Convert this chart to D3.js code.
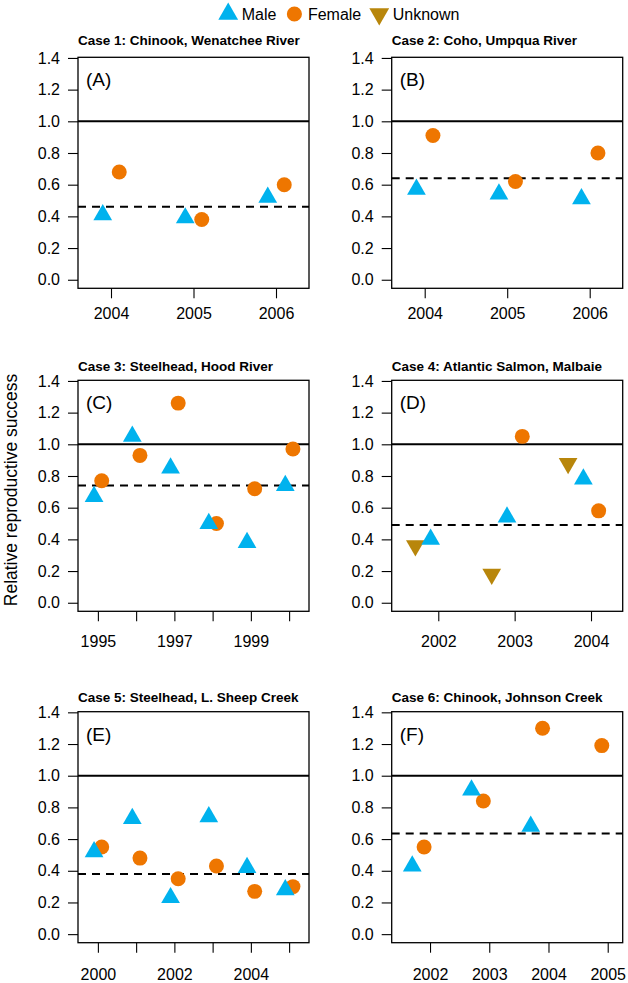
<!DOCTYPE html>
<html>
<head>
<meta charset="utf-8">
<script src="https://cdn.jsdelivr.net/npm/d3@7"></script>
<style>
body { margin: 0; background: #fff; }
svg { display: block; }
</style>
</head>
<body>
<div id="chart-area"></div>
<script>
// values (relative reproductive success)
var years1 = [2004, 2005, 2006];
var male1 = [0.41, 0.39, 0.52];
var female1 = [0.68, 0.38, 0.60];
var mean1 = 0.46;

var years2 = [2004, 2005, 2006];
var male2 = [0.57, 0.54, 0.51];
var female2 = [0.91, 0.62, 0.80];
var mean2 = 0.64;

var years3 = [1995, 1996, 1997, 1998, 1999, 2000];
var male3 = [0.67, 1.05, 0.85, 0.50, 0.38, 0.74];
var female3 = [0.77, 0.93, 1.26, 0.50, 0.72, 0.97];
var mean3 = 0.74;

var years4 = [2002, 2003, 2004];
var male4 = [0.40, 0.54, 0.78];
var female4 = [null, 1.05, 0.58];
var unknown4 = [0.36, 0.18, 0.88];
var mean4 = 0.49;

var years5 = [2000, 2001, 2002, 2003, 2004, 2005];
var male5 = [0.52, 0.73, 0.23, 0.74, 0.42, 0.28];
var female5 = [0.55, 0.48, 0.35, 0.43, 0.27, 0.30];
var mean5 = 0.38;

var years6 = [2002, 2003, 2004, 2005];
var male6 = [0.43, 0.91, 0.68, null];
var female6 = [0.55, 0.84, 1.30, 1.19];
var mean6 = 0.635;

var titles = ["Case 1: Chinook, Wenatchee River", "Case 2: Coho, Umpqua River",
    "Case 3: Steelhead, Hood River", "Case 4: Atlantic Salmon, Malbaie",
    "Case 5: Steelhead, L. Sheep Creek", "Case 6: Chinook, Johnson Creek"];
var letters = ["(A)", "(B)", "(C)", "(D)", "(E)", "(F)"];
var yTicks = [0, 0.2, 0.4, 0.6, 0.8, 1.0, 1.2, 1.4];
var xLabels = [[2004, 2005, 2006], [2004, 2005, 2006], [1995, 1997, 1999],
    [2002, 2003, 2004], [2000, 2002, 2004], [2002, 2003, 2004, 2005]];
var xlims = [[2003.6, 2006.4], [2003.6, 2006.4], [1994.48, 2000.52],
    [2001.39, 2004.415], [1999.48, 2005.52], [2001.353, 2005.253]];
var legendNames = ["Male", "Female", "Unknown"];

var panels = [
    {years: years1, male: male1, female: female1, mean: mean1, off: {male: -0.1, female: 0.1}},
    {years: years2, male: male2, female: female2, mean: mean2, off: {male: -0.1, female: 0.1}},
    {years: years3, male: male3, female: female3, mean: mean3, off: {male: -0.1, female: 0.1}},
    {years: years4, male: male4, female: female4, unknown: unknown4, mean: mean4, off: {unknown: -0.3, male: -0.1, female: 0.1}},
    {years: years5, male: male5, female: female5, mean: mean5, off: {male: -0.1, female: 0.1}},
    {years: years6, male: male6, female: female6, mean: mean6, off: {male: -0.3, female: -0.1}}
];

var width = 628;
var height = 983;
var box = 231;
var colLeft = [78, 391.7];
var rowTop = [57.3, 380.3, 711.7];
var titleRise = [12.6, 9.3, 10];
var xPad = [9.6, 14.6, 15.6];
var font = "'Liberation Sans', Arial, Helvetica, sans-serif";

var colors = {male: "#00B2EE", female: "#EE7600", unknown: "#B8860B"};
var triSize = 152, circSize = 176;

var svg = d3.select('#chart-area')
    .append('svg')
        .attr('width', width)
        .attr('height', height)
        .style('font-family', font);

function marker(sel, kind) {
    if (kind == "female") {
        sel.attr("d", d3.symbol(d3.symbolCircle, circSize)());
    } else {
        sel.attr("d", d3.symbol(d3.symbolTriangle, triSize)());
    }
    sel.attr("fill", colors[kind]);
}

panels.forEach(function(p, i) {
    var col = i % 2, row = Math.floor(i / 2);
    var g = svg.append("g")
        .attr("transform", "translate(" + colLeft[col] + "," + rowTop[row] + ")");

    var x = d3.scaleLinear().domain(xlims[i]).range([0, box]);
    var y = d3.scaleLinear().domain([-0.054, 1.404]).range([box, 0]);

    var leftAxis = d3.axisLeft(y).tickValues(yTicks)
        .tickFormat(d3.format(".1f")).tickSize(10).tickPadding(8);
    var ya = g.append("g").call(leftAxis);
    ya.select(".domain").remove();

    var labs = xLabels[i];
    var bottomAxis = d3.axisBottom(x).tickValues(p.years)
        .tickFormat(function(d) { return labs.indexOf(d) >= 0 ? d : ""; })
        .tickSize(10).tickPadding(xPad[row]);
    var xa = g.append("g")
        .attr("transform", "translate(0," + box + ")")
        .call(bottomAxis);
    xa.select(".domain").remove();

    g.selectAll(".tick text").attr("font-size", 16).attr("fill", "#000");
    g.selectAll(".tick line").attr("stroke", "#000").attr("stroke-width", 1.1);
    ya.attr("font-family", null);
    xa.attr("font-family", null);

    g.append("line")
        .attr("x1", 0).attr("x2", box)
        .attr("y1", y(1)).attr("y2", y(1))
        .attr("stroke", "#000").attr("stroke-width", 2);

    g.append("line")
        .attr("x1", 0).attr("x2", box)
        .attr("y1", y(p.mean)).attr("y2", y(p.mean))
        .attr("stroke", "#000").attr("stroke-width", 2)
        .attr("stroke-dasharray", "8,6");

    ["female", "unknown", "male"].forEach(function(kind) {
        if (!p[kind]) return;
        var pts = p.years.map(function(yr, j) { return {year: yr, v: p[kind][j]}; })
            .filter(function(d) { return d.v != null; });
        g.selectAll("path." + kind)
            .data(pts)
            .enter()
            .append("path")
                .attr("class", kind)
                .call(marker, kind)
                .attr("transform", function(d) {
                    var t = "translate(" + x(d.year + p.off[kind]) + "," + y(d.v) + ")";
                    return kind == "unknown" ? t + " rotate(180)" : t;
                });
    });

    g.append("rect")
        .attr("width", box).attr("height", box)
        .attr("fill", "none").attr("stroke", "#000").attr("stroke-width", 1.3);

    g.append("text")
        .attr("x", 8).attr("y", 29)
        .attr("font-size", 19)
        .text(letters[i]);

    g.append("text")
        .attr("x", 0).attr("y", -titleRise[row])
        .attr("font-size", 13.5)
        .attr("font-weight", "bold")
        .text(titles[i]);
});

// legend across the top
var lx = 218.7;
legendNames.forEach(function(name) {
    var kind = name.toLowerCase();
    var s = svg.append("path").call(marker, kind);
    var t = "translate(" + (lx + 9.5) + ",14)";
    s.attr("transform", kind == "unknown" ? t + " rotate(180)" : t);
    if (kind != "female") s.attr("d", d3.symbol(d3.symbolTriangle, 170)());
    else s.attr("d", d3.symbol(d3.symbolCircle, 180)());
    var txt = svg.append("text")
        .attr("x", lx + 23).attr("y", 19.7)
        .attr("font-size", 16)
        .text(name);
    lx = lx + 23 + txt.node().getComputedTextLength() + 8.5;
});

svg.append("text")
    .attr("transform", "translate(16.5,490) rotate(-90)")
    .attr("text-anchor", "middle")
    .attr("font-size", 17.5)
    .text("Relative reproductive success");
</script>
</body>
</html>
